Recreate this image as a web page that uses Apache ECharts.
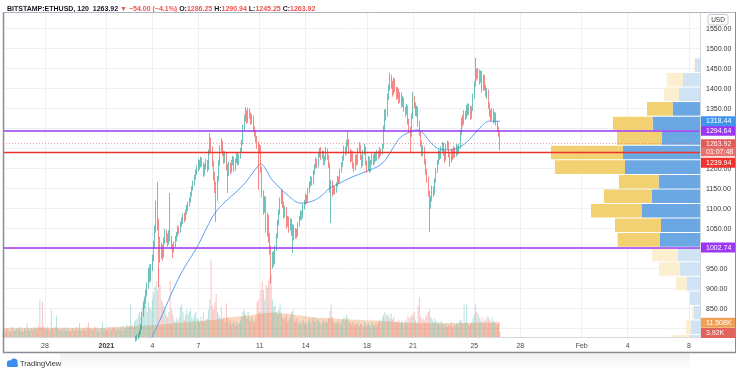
<!DOCTYPE html>
<html><head><meta charset="utf-8">
<script src="https://cdn.jsdelivr.net/npm/echarts@6/dist/echarts.min.js"></script>
<style>html,body{margin:0;padding:0;background:#fff}#c{width:736px;height:371px}</style>
</head><body><div id="c"></div>
<script>
// ---------- DATA ----------
const candleStart = Date.UTC(2021, 0, 2, 12);   // first candle (2h bars)
const volStart = Date.UTC(2020, 11, 25, 6);     // first volume bar
const firstOpen = 745;
const closes = [
752,760,758,766,772,775,
778,782,790,800,835,858,870,888,905,940,925,950,
975,1010,1045,1090,1060,1020,990,1000,985,1020,1040,1030,
1015,1040,1025,1005,995,1010,1025,1035,1050,1045,1062,1070,
1080,1075,1092,1100,1112,1120,1135,1150,1162,1178,1190,1200,
1215,1208,1222,1212,1190,1205,1218,1200,1240,1270,1250,1215,
1185,1160,1130,1175,1215,1250,1265,1240,1220,1235,1205,1190,
1210,1195,1215,1225,1200,1220,1235,1215,1230,1245,1265,1300,
1325,1340,1320,1345,1335,1318,1328,1300,1290,1275,1262,1250,
1255,1200,1140,1100,1125,1060,1080,1030,1000,960,985,970,
1000,1030,1065,1090,1120,1140,1110,1085,1100,1060,1075,1050,
1070,1040,1055,1030,1045,1035,1060,1075,1090,1080,1105,1115,
1130,1120,1145,1160,1175,1165,1190,1205,1220,1210,1235,1245,
1230,1240,1215,1225,1245,1230,1210,1150,1165,1140,1150,1145,
1160,1175,1170,1195,1210,1225,1250,1240,1265,1270,1245,1225,
1240,1210,1200,1230,1215,1245,1255,1230,1210,1240,1250,1215,
1200,1225,1195,1215,1230,1215,1235,1225,1240,1230,1245,1240,
1255,1300,1340,1335,1380,1400,1425,1415,1390,1420,1400,1380,
1395,1370,1385,1360,1375,1350,1340,1355,1320,1300,1285,1330,
1375,1360,1340,1350,1315,1290,1265,1240,1250,1220,1195,1175,
1140,1115,1125,1150,1140,1170,1195,1215,1240,1230,1250,1260,
1240,1225,1255,1265,1235,1220,1245,1230,1250,1235,1255,1240,
1255,1290,1320,1315,1340,1330,1352,1340,1355,1330,1350,1380,
1410,1440,1430,1445,1420,1440,1400,1430,1405,1390,1395,1360,
1340,1325,1345,1320,1335,1315,1300,1286.25,1263.92];
const highs = [
758,765,768,770,778,782,
786,790,798,812,842,866,880,898,915,952,960,962,
985,1020,1058,1120,1167,1075,1030,1015,1010,1028,1050,1048,
1038,1046,1139,1032,1012,1018,1032,1042,1058,1056,1068,1078,
1088,1090,1098,1110,1118,1128,1142,1156,1170,1185,1198,1208,
1224,1222,1230,1228,1216,1212,1225,1222,1248,1289,1278,1255,
1220,1192,1168,1182,1222,1258,1276,1270,1245,1244,1240,1212,
1218,1215,1222,1232,1230,1226,1242,1240,1236,1252,1272,1310,
1335,1354,1346,1352,1350,1340,1336,1332,1306,1296,1282,1268,
1262,1258,1205,1146,1132,1130,1090,1085,1040,1008,992,995,
1008,1038,1072,1098,1128,1150,1145,1118,1108,1104,1082,1080,
1076,1074,1062,1060,1052,1050,1066,1082,1096,1095,1112,1122,
1138,1135,1152,1168,1182,1180,1196,1212,1228,1225,1242,1252,
1254,1246,1244,1232,1254,1250,1235,1215,1172,1170,1158,1156,
1166,1182,1180,1200,1216,1232,1258,1256,1272,1294,1275,1250,
1246,1244,1215,1236,1235,1252,1267,1260,1235,1246,1262,1255,
1220,1232,1230,1222,1238,1235,1242,1240,1246,1245,1254,1250,
1262,1308,1348,1350,1388,1410,1440,1435,1420,1428,1425,1405,
1404,1400,1392,1390,1382,1378,1355,1362,1358,1325,1305,1338,
1392,1382,1366,1358,1355,1320,1295,1270,1258,1255,1225,1200,
1180,1145,1132,1158,1156,1176,1202,1222,1248,1245,1256,1267,
1265,1245,1262,1270,1268,1240,1250,1248,1257,1254,1262,1258,
1262,1298,1328,1334,1346,1345,1360,1364,1362,1358,1356,1388,
1418,1477,1450,1452,1448,1446,1444,1436,1434,1410,1402,1398,
1365,1348,1352,1350,1342,1340,1320,1305,1290.94];
const lows = [
741,749,752,755,762,768,
770,774,779,786,798,830,850,862,880,900,915,918,
945,968,1002,1040,1045,904,965,975,970,978,1012,1015,
1005,1010,1018,998,977,990,1004,1018,1030,1036,1040,1055,
1062,1066,1070,1085,1094,1105,1115,1130,1145,1158,1172,1184,
1194,1198,1203,1205,1179,1183,1198,1192,1196,1235,1240,1205,
1170,1139,1067,1120,1168,1208,1242,1232,1212,1214,1196,1139,
1182,1186,1190,1208,1192,1195,1214,1208,1210,1225,1240,1260,
1294,1318,1312,1315,1325,1310,1312,1292,1280,1266,1250,1147,
1238,1190,1128,1085,1090,1040,1030,1015,985,914,950,955,
962,995,1025,1058,1085,1112,1102,1075,1078,1050,1055,1040,
1045,1032,989,1021,1025,1026,1030,1055,1070,1072,1076,1098,
1110,1112,1116,1140,1155,1158,1160,1185,1200,1202,1205,1228,
1222,1225,1208,1210,1220,1222,1202,1140,1064,1130,1135,1136,
1140,1155,1162,1165,1190,1205,1220,1232,1236,1255,1238,1215,
1218,1200,1192,1196,1208,1210,1240,1222,1202,1206,1235,1208,
1189,1195,1190,1192,1210,1208,1212,1218,1220,1224,1226,1232,
1235,1250,1295,1320,1330,1372,1395,1400,1380,1385,1392,1372,
1375,1362,1365,1352,1355,1342,1330,1335,1310,1290,1240,1280,
1325,1350,1332,1330,1305,1282,1255,1230,1232,1210,1185,1165,
1130,1042,1100,1118,1130,1135,1165,1190,1210,1222,1225,1242,
1232,1215,1220,1248,1228,1205,1215,1222,1225,1228,1230,1234,
1236,1250,1285,1305,1310,1322,1325,1332,1335,1322,1325,1345,
1375,1405,1420,1425,1410,1415,1390,1395,1396,1380,1375,1350,
1330,1318,1320,1312,1315,1308,1292,1280,1245.25];
// volume in K, aligned with candles
const volumes = [
9,26,10,8,12,14,
14,18,20,16,24,30,22,26,20,28,24,22,
30,36,40,45,38,55,42,30,28,25,22,18,
16,20,45,22,18,14,12,15,13,16,24,26,
20,14,18,22,18,20,22,16,14,18,20,15,
14,12,16,13,20,12,14,15,22,30,62,25,
22,28,35,20,18,15,24,14,16,12,27,16,
12,14,10,11,13,9,12,10,11,13,16,20,
22,18,15,20,14,12,16,13,12,15,28,30,
20,38,45,38,30,42,40,45,48,50,30,24,
25,20,18,22,26,18,15,14,16,18,12,14,
16,20,22,14,12,15,11,13,10,12,14,11,
12,10,13,15,11,14,16,12,15,13,14,12,
10,12,14,11,13,12,15,21,26,16,12,11,
12,11,13,10,12,14,16,14,18,15,12,11,
10,12,9,11,10,12,9,11,10,8,12,10,
9,11,10,8,12,10,9,11,10,12,14,12,
16,18,20,18,17,18,15,19,14,16,12,13,
12,14,11,13,12,10,14,12,17,15,16,18,
17,20,14,12,25,32,16,14,15,13,16,18,
20,22,16,14,12,15,13,11,12,10,13,11,
10,9,11,8,10,9,12,8,10,9,11,10,
12,14,13,11,26,12,26,11,9,11,12,15,
18,26,20,18,15,13,16,12,14,13,16,16,
14,12,16,13,12,13,10,12,3.92];
// volume (K) before the first candle; sign = bar direction
const preVolumes = [
5,-6,4,-7,6,5,-4,8,-5,6,
-5,7,6,-8,5,-6,4,7,-5,11,
6,-5,7,-6,5,8,-7,6,-9,30,
-8,-28,9,-7,6,8,-6,5,22,-7,
6,-8,17,7,-6,5,-7,6,8,-5,
6,-7,5,-4,6,7,-5,6,-8,5,
-11,6,-5,7,-6,5,8,-12,6,-7,
5,6,-8,7,-5,6,-4,7,12,-6,
7,-5,6,-8,5,6,-7,8,-6,5,
7,-6,8,-5,9,6,-7,10,8];
// moving average, at candle index
const maIdx = [12,18.5,26.4,34.2,42,53,60.8,67,74.9,82.7,90.5,98.3,103,106.2,111.7,117.9,125.7,133.6,141.4,149.2,157,164.8,172.7,180.5,188.3,196.2,201.6,206.3,211.8,219.6,225.8,231.3,236.8,243,250.8,258.7,266.5,274.3,282.1,290];
const maVal = [740,784,839,897,947,1004,1054,1089,1117,1139,1164,1197,1212,1202,1172,1152,1129,1114,1117,1129,1152,1164,1177,1187,1197,1209,1227,1252,1277,1292,1297,1284,1262,1249,1247,1254,1274,1302,1319,1318.44];
// volume moving average (K), at volume-bar index
const volMaIdx = [0,76,91.7,115,141,167.6,180,193.4,210.7,219.3,245.9,271.7,297.5,313.2,330,350,389];
const volMaVal = [7.4,7.4,8.2,9.5,11.7,14.1,16.1,17.5,19.6,19.1,15.6,14.1,12.9,11.6,11.2,11.3,11.508];
// time-axis ticks
const tickDates = [[2020,11,28],[2021,0,1],[2021,0,4],[2021,0,7],[2021,0,11],[2021,0,14],[2021,0,18],[2021,0,21],[2021,0,25],[2021,0,28],[2021,1,1],[2021,1,4],[2021,1,8]];
const tickLabels = ['28','2021','4','7','11','14','18','21','25','28','Feb','4','8'];
const priceLabels = [850,900,950,1050,1100,1150,1200,1350,1400,1450,1500,1550];
const priceGrid = [800,850,900,950,1000,1050,1100,1150,1200,1250,1300,1350,1400,1450,1500,1550];
// visible-range volume profile (row lows, up / down volume in K)
const vpLows = [1440.6,1404.2,1367.8,1331.4,1295.0,1258.6,1222.2,1185.8,1149.4,1113.0,1076.6,1040.2,1003.8,967.4,931.0,894.6,858.2,821.8,785.4,749.0];
const vpRow = 36.4;
const vpUp   = [15,51,63,82,142,114,231,225,124,145,174,117,120,66,61,40,30,19,28,30];
const vpDown = [2,49,45,77,119,135,216,210,119,143,153,138,127,78,62,32,3,5,14,57];
const vaLow = 1003.8, vaHigh = 1367.8;
// horizontal levels
const levelUpper = 1294.64, levelLower = 1002.74, poc = 1239.94;
const lastPrice = 1263.92, lastMa = 1318.44, lastVolMa = 11.508, lastVol = 3.92;
const countdown = '01:07:48';

// ---------- CHART ----------
const STEP = 2 * 3600 * 1000, DAY = 86400000;
const XMIN = Date.UTC(2020, 11, 28) - 2.739 * DAY;
const XMAX = XMIN + 45.457 * DAY;
const FONT = 'Liberation Sans, Arial, sans-serif';
const PURPLE = '#9c36f2', UP = '#26a69a', DN = '#ef5350';
const UPV = 'rgba(38,166,154,0.33)', DNV = 'rgba(239,83,80,0.33)';
const NOLINE = { color: 'rgba(0,0,0,0)', width: 0.01 };

const tC = i => candleStart + i * STEP;
const candleData = closes.map((c, i) => [tC(i), i === 0 ? firstOpen : closes[i - 1], c, lows[i], highs[i]]);
const volData = [];
preVolumes.forEach((v, i) => volData.push({ value: [volStart + i * STEP, Math.abs(v)], itemStyle: { color: v >= 0 ? UPV : DNV } }));
volumes.forEach((v, i) => volData.push({ value: [tC(i), v], itemStyle: { color: candleData[i][2] >= candleData[i][1] ? UPV : DNV } }));
const maData = maIdx.map((k, j) => [candleStart + k * STEP, maVal[j]]);
const volMaData = volMaIdx.map((k, j) => [volStart + k * STEP, volMaVal[j]]);
const tickTimes = tickDates.map(d => Date.UTC(d[0], d[1], d[2]));

function lab(text, bg, offset) {
  return { show: true, position: 'end', distance: 1, formatter: text, color: '#fff', backgroundColor: bg,
    padding: [1, 2, 1, 5], width: 29, fontSize: 7, lineHeight: 8, fontFamily: FONT, offset: offset || [0, 0] };
}

const gridLines = tickTimes.map(t => ({ xAxis: t })).concat(priceGrid.map(p => ({ yAxis: p })));

const chart = echarts.init(document.getElementById('c'));
chart.setOption({
  animation: false,
  textStyle: { fontFamily: FONT },
  title: {
    left: 2, top: 1,
    text: '{b|BITSTAMP:ETHUSD, 120}  {k|1263.92} {r|▼ −54.00 (−4.1%)} {k|O:}{r|1286.25} {k|H:}{r|1290.94} {k|L:}{r|1245.25} {k|C:}{r|1263.92}',
    textStyle: { fontSize: 7, rich: {
      b: { fontSize: 7, fontWeight: 'bold', color: '#131722', fontFamily: FONT },
      k: { fontSize: 7, color: '#131722', fontFamily: FONT },
      r: { fontSize: 7, color: '#ef5350', fontFamily: FONT } } }
  },
  grid: { left: 3, right: 36, top: 13, bottom: 34 },
  xAxis: [{
    type: 'value', min: XMIN, max: XMAX, position: 'bottom',
    axisLine: { show: true, lineStyle: { color: '#d6d9e0', width: 1 } },
    axisTick: { show: false }, splitLine: { show: false },
    axisLabel: { customValues: tickTimes, margin: 6, fontSize: 7, color: '#4a4a4a',
      formatter: (v) => { const k = tickTimes.indexOf(v); const s = k >= 0 ? tickLabels[k] : ''; return s === '2021' ? '{y|2021}' : s; },
      rich: { y: { fontWeight: 'bold', fontSize: 7, color: '#333' } } }
  }, {
    type: 'value', min: 0, max: 2091, inverse: true, show: false
  }],
  yAxis: [{
    type: 'value', position: 'right', min: 779.25, max: 1589.25,
    axisLine: { show: true, lineStyle: { color: '#d6d9e0' } },
    axisTick: { show: false }, splitLine: { show: false },
    axisLabel: { customValues: priceLabels, formatter: v => v.toFixed(2), fontSize: 7, color: '#333', margin: 6 }
  }, {
    type: 'value', min: 0, max: 260, show: false
  }],
  graphic: [
    { type: 'line', shape: { x1: 3, y1: 12.5, x2: 736, y2: 12.5 }, style: { stroke: '#b2b5be', lineWidth: 1 }, z: 100 },
    { type: 'line', shape: { x1: 3.5, y1: 12, x2: 3.5, y2: 353 }, style: { stroke: '#8a8d96', lineWidth: 1.5 }, z: 100 },
    { type: 'line', shape: { x1: 3, y1: 352.5, x2: 736, y2: 352.5 }, style: { stroke: '#8a8d96', lineWidth: 1.5 }, z: 100 },
    { type: 'line', shape: { x1: 735.5, y1: 12, x2: 735.5, y2: 353 }, style: { stroke: '#8a8d96', lineWidth: 1 }, z: 100 },
    { type: 'rect', shape: { x: 60, y: 353.5, width: 630, height: 17 },
      style: { fill: new echarts.graphic.LinearGradient(0, 0, 0, 1, [{ offset: 0, color: 'rgba(0,0,0,0.06)' }, { offset: 1, color: 'rgba(0,0,0,0)' }]) }, z: 1 },
    { type: 'rect', shape: { x: 708, y: 14.5, width: 20, height: 10.5, r: 2 }, style: { fill: '#fff', stroke: '#c5c8d0', lineWidth: 1 }, z: 100 },
    { type: 'text', x: 718, y: 20, style: { text: 'USD', fontSize: 6.5, fill: '#333', align: 'center', verticalAlign: 'middle', fontFamily: FONT }, z: 101 },
    { type: 'circle', shape: { cx: 10, cy: 363.5, r: 3.2 }, style: { fill: '#3a8ef0' }, z: 100 },
    { type: 'circle', shape: { cx: 14, cy: 362, r: 3.6 }, style: { fill: '#3a8ef0' }, z: 100 },
    { type: 'rect', shape: { x: 7, y: 363.5, width: 11, height: 3.6, r: 1.5 }, style: { fill: '#3a8ef0' }, z: 100 },
    { type: 'text', x: 20, y: 364, style: { text: 'TradingView', fontSize: 7.5, fill: '#333', verticalAlign: 'middle', fontFamily: FONT }, z: 100 }
  ],
  series: [
    { type: 'line', data: [], xAxisIndex: 0, yAxisIndex: 0, z: 0, silent: true,
      markLine: { silent: true, symbol: 'none', z: 0, label: { show: false },
        lineStyle: { color: '#eef0f5', width: 1, type: 'solid' }, data: gridLines } },
    { name: 'Volume', type: 'bar', xAxisIndex: 0, yAxisIndex: 1, barWidth: 1, z: 1, silent: true,
      data: volData,
      markLine: { silent: true, symbol: 'none', z: 6, lineStyle: NOLINE,
        data: [ { yAxis: lastVolMa, lineStyle: NOLINE, label: lab('11.508K', '#f0a055') },
                { yAxis: lastVol, lineStyle: NOLINE, label: lab('3.92K', '#e0645c', [0, 1]) } ] } },
    { name: 'VolMA', type: 'line', xAxisIndex: 0, yAxisIndex: 1, data: volMaData, smooth: 0.3,
      showSymbol: false, symbol: 'none', z: 1, silent: true,
      lineStyle: { width: 0 }, areaStyle: { color: 'rgba(238,145,80,0.5)', origin: 'start' } },
    { name: 'Profile', type: 'custom', xAxisIndex: 1, yAxisIndex: 0, clip: true, silent: true, z: 2,
      data: vpLows.map((lo, k) => [lo, lo + vpRow, vpUp[k], vpDown[k]]),
      renderItem: function (params, api) {
        const lo = api.value(0), hi = api.value(1), up = api.value(2), dn = api.value(3);
        const inVA = lo >= vaLow - 0.01 && hi <= vaHigh + 0.01;
        const p0 = api.coord([0, hi]), p1 = api.coord([up, lo]), p2 = api.coord([up + dn, lo]);
        const top = p0[1] + 0.5, h = p1[1] - p0[1] - 1;
        return { type: 'group', children: [
          { type: 'rect', shape: { x: p1[0], y: top, width: p0[0] - p1[0], height: h }, style: { fill: inVA ? '#6ba8e3' : '#d0e3f5' } },
          { type: 'rect', shape: { x: p2[0], y: top, width: p1[0] - p2[0], height: h }, style: { fill: inVA ? '#f2d173' : '#fcefd0' } }
        ] };
      } },
    { name: 'MA', type: 'line', xAxisIndex: 0, yAxisIndex: 0, data: maData, smooth: 0.35,
      showSymbol: false, symbol: 'none', z: 3, silent: true,
      lineStyle: { color: '#5aa2f0', width: 1 } },
    { name: 'ETHUSD', type: 'candlestick', xAxisIndex: 0, yAxisIndex: 0, data: candleData, z: 4,
      barWidth: 0.6, silent: true, clip: true,
      itemStyle: { color: UP, color0: DN, borderColor: UP, borderColor0: DN, borderWidth: 0.8, opacity: 0.85 },
      markLine: { silent: true, symbol: 'none', z: 6,
        data: [
          { yAxis: lastPrice, lineStyle: { color: 'rgba(239,83,80,0.55)', type: [1, 2], width: 1 },
            label: { show: true, position: 'end', distance: 1, formatter: '{a|1263.92}\n{b|' + countdown + '}',
              color: '#fff', padding: 0, offset: [0, 4.5],
              rich: { a: { backgroundColor: '#e35b56', color: '#fff', fontSize: 7, width: 29, padding: [1, 2, 1, 5], lineHeight: 8, fontFamily: FONT },
                      b: { backgroundColor: '#e8716c', color: '#fff', fontSize: 7, width: 29, padding: [1, 2, 1, 5], lineHeight: 8, fontFamily: FONT } } } },
          { yAxis: levelUpper, lineStyle: { color: PURPLE, width: 1.6, type: 'solid' }, label: lab('1294.64', PURPLE) },
          { yAxis: levelLower, lineStyle: { color: PURPLE, width: 1.6, type: 'solid' }, label: lab('1002.74', PURPLE) },
          { yAxis: poc, lineStyle: { color: '#f0322c', width: 1.3, type: 'solid' }, label: lab('1239.94', '#f0322c', [0, 10]) },
          { yAxis: lastMa, lineStyle: NOLINE, label: lab('1318.44', '#3d95ee') }
        ] } }
  ]
});
</script>
</body></html>
